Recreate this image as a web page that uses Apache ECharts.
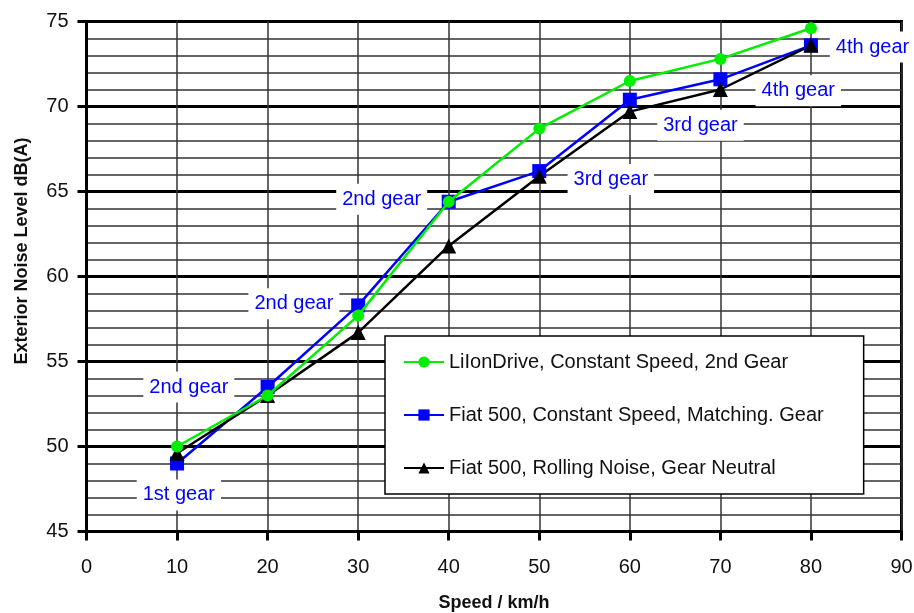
<!DOCTYPE html>
<html>
<head>
<meta charset="utf-8">
<script src="https://cdn.jsdelivr.net/npm/echarts@6/dist/echarts.min.js"></script>
<style>html,body{margin:0;padding:0;background:#fff}#c{width:914px;height:613px}</style>
</head>
<body>
<div id="c"></div>
<script>
var speeds = [10, 20, 30, 40, 50, 60, 70, 80];
var liionDrive = [50.0, 53.0, 57.7, 64.4, 68.7, 71.5, 72.8, 74.6];
var fiatMatching = [49.0, 53.5, 58.3, 64.4, 66.2, 70.4, 71.6, 73.6];
var fiatRolling = [49.6, 53.0, 56.7, 61.8, 65.9, 69.7, 71.0, 73.6];
var seriesNames = ['LiIonDrive, Constant Speed, 2nd Gear', 'Fiat 500, Constant Speed, Matching. Gear', 'Fiat 500, Rolling Noise, Gear Neutral'];
var gearLabels = ['1st gear', '2nd gear', '2nd gear', '2nd gear', '3rd gear', '3rd gear', '4th gear', '4th gear'];
var gearLabelX = [10.2, 11.3, 22.9, 32.6, 57.9, 67.8, 78.6, 86.8];
var gearLabelY = [47.15, 53.5, 58.4, 64.55, 65.7, 68.9, 70.93, 73.5];

function pairs(xs, ys) { return xs.map(function (x, i) { return [x, ys[i]]; }); }

var FONT = 'Liberation Sans';
var chart = echarts.init(document.getElementById('c'), null, {renderer: 'canvas'});
chart.setOption({
  animation: false,
  backgroundColor: '#fff',
  textStyle: {fontFamily: FONT},
  grid: {left: 86.5, right: 12.5, top: 21.5, bottom: 81.5, containLabel: false, outerBoundsMode: 'none', show: true, borderColor: '#000', borderWidth: 3, backgroundColor: 'transparent'},
  xAxis: {
    type: 'value', min: 0, max: 90, interval: 10,
    axisLine: {lineStyle: {color: '#000', width: 3}},
    axisTick: {show: true, length: 9, lineStyle: {color: '#000', width: 3}},
    axisLabel: {color: '#111', fontSize: 20, margin: 26, fontFamily: FONT},
    splitLine: {show: true, lineStyle: {color: '#333', width: 1.5}},
    name: 'Speed / km/h', nameLocation: 'middle', nameGap: 63,
    nameTextStyle: {color: '#111', fontSize: 18, fontWeight: 'bold', fontFamily: FONT}
  },
  yAxis: {
    type: 'value', min: 45, max: 75, interval: 5,
    axisLine: {show: true, lineStyle: {color: '#000', width: 3}},
    axisTick: {show: true, length: 9, lineStyle: {color: '#000', width: 3}},
    axisLabel: {color: '#111', fontSize: 20, margin: 18, fontFamily: FONT},
    splitLine: {show: true, lineStyle: {color: '#000', width: 3}},
    minorTick: {show: false, splitNumber: 5},
    minorSplitLine: {show: true, lineStyle: {color: '#333', width: 1.5}}
  },
  graphic: [{
    type: 'text', x: 22, y: 251, rotation: Math.PI / 2,
    style: {text: 'Exterior Noise Level dB(A)', fill: '#111', fontSize: 18, fontWeight: 'bold', fontFamily: FONT, align: 'center', verticalAlign: 'middle'}
  }],
  legend: {
    data: seriesNames,
    orient: 'vertical', left: 385, top: 336,
    itemWidth: 40, itemHeight: 14, itemGap: 33,
    padding: [16, 40, 16, 18],
    backgroundColor: '#fff', borderColor: '#000', borderWidth: 1.5,
    textStyle: {color: '#111', fontSize: 20, fontFamily: FONT}
  },
  series: [
    {
      name: 'gearLabels', type: 'scatter', z: 1, silent: true,
      symbolSize: 0,
      itemStyle: {opacity: 1, color: '#fff'},
      data: gearLabels.map(function (t, i) { return {name: t, value: [gearLabelX[i], gearLabelY[i]]}; }),
      label: {show: true, position: 'inside', formatter: '{b}', color: '#0000ff', opacity: 1, fontSize: 20, fontFamily: FONT, backgroundColor: '#ffffff', padding: [8, 6, 3, 6]}
    },
    {
      name: seriesNames[0], type: 'line', z: 4, data: pairs(speeds, liionDrive),
      symbol: 'circle', symbolSize: 12,
      lineStyle: {color: '#00ee00', width: 2.5}, itemStyle: {color: '#00ee00'}
    },
    {
      name: seriesNames[1], type: 'line', z: 3, data: pairs(speeds, fiatMatching),
      symbol: 'rect', symbolSize: 14,
      lineStyle: {color: '#0000ff', width: 2.5}, itemStyle: {color: '#0000ff'}
    },
    {
      name: seriesNames[2], type: 'line', z: 3, data: pairs(speeds, fiatRolling),
      symbol: 'triangle', symbolSize: 15,
      lineStyle: {color: '#000', width: 2.5}, itemStyle: {color: '#000'}
    }
  ]
});
</script>
</body>
</html>
